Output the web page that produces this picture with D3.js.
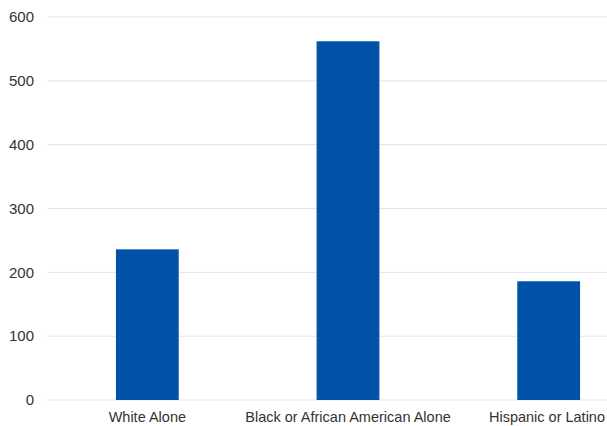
<!DOCTYPE html>
<html><head><meta charset="utf-8">
<script src="https://cdn.jsdelivr.net/npm/d3@7"></script>
<style>body{margin:0;background:#fff}svg{display:block;font-family:"Liberation Sans",Arial,sans-serif}</style>
</head><body><svg id="c" width="607" height="426"></svg>
<script>
const categories = ["White Alone", "Black or African American Alone", "Hispanic or Latino"];
const values = [236, 562, 186];
const yTicks = [0, 100, 200, 300, 400, 500, 600];

const svg = d3.select("#c");
const W = 607;
const x = d3.scaleBand().domain(categories).range([47, 649]).paddingInner(0.687).paddingOuter(0.3435);
const y = d3.scaleLinear().domain([0, 600]).range([400, 17]);

svg.append("g").selectAll("line").data(yTicks).join("line")
  .attr("x1", 47).attr("x2", W)
  .attr("y1", d => y(d)).attr("y2", d => y(d))
  .attr("stroke", "#e4e4e4").attr("stroke-width", 1);

const yAxis = svg.append("g").attr("transform", "translate(47,0)")
  .call(d3.axisLeft(y).tickValues(yTicks).tickSize(0).tickPadding(13));
yAxis.select(".domain").remove();
yAxis.selectAll("text").attr("font-size", 15).attr("fill", "#333").attr("font-family", "Liberation Sans, Arial, sans-serif");

svg.append("g").selectAll("rect").data(categories).join("rect")
  .attr("x", d => x(d)).attr("width", x.bandwidth())
  .attr("y", (d, i) => y(values[i])).attr("height", (d, i) => y(0) - y(values[i]))
  .attr("fill", "#0053a6");

const xAxis = svg.append("g").attr("transform", "translate(0,400)")
  .call(d3.axisBottom(x).tickSize(0).tickPadding(12));
xAxis.select(".domain").remove();
xAxis.selectAll("text").attr("font-size", 14.5).attr("fill", "#333").attr("font-family", "Liberation Sans, Arial, sans-serif")
  .each(function() {
    const b = this.getBoundingClientRect();
    const over = b.right - (W - 2);
    if (over > 0) d3.select(this).attr("dx", -over);
  });
</script></body></html>
